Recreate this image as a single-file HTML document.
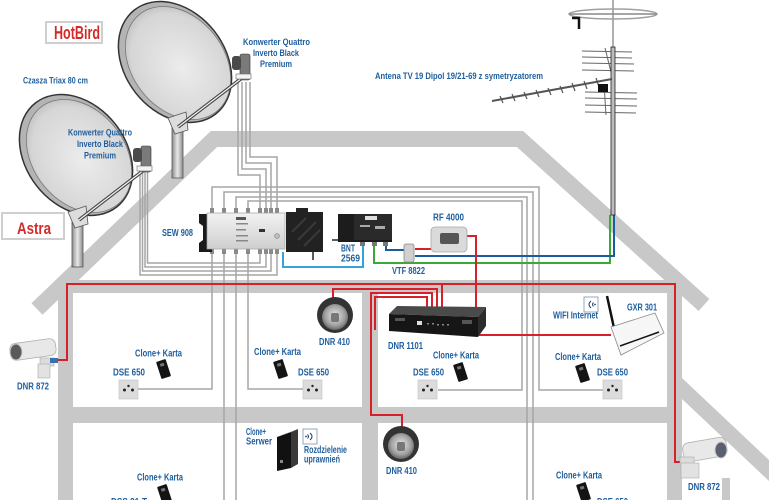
<!DOCTYPE html>
<html><head><meta charset="utf-8"><style>
html,body{margin:0;padding:0;background:#fff;}
svg{display:block;}
.t{font-family:"Liberation Sans Narrow","Liberation Sans",sans-serif;font-weight:bold;fill:#1e5e9e;font-size:10px;}
</style></head><body>
<svg width="769" height="500" viewBox="0 0 769 500" xmlns="http://www.w3.org/2000/svg">
<defs>
<radialGradient id="dish" cx="0.55" cy="0.5" r="0.6">
<stop offset="0" stop-color="#ececec"/><stop offset="0.8" stop-color="#d6d6d6"/><stop offset="1" stop-color="#b8b8b8"/>
</radialGradient>
<linearGradient id="pole" x1="0" x2="1" y1="0" y2="0">
<stop offset="0" stop-color="#8c8c8c"/><stop offset="0.5" stop-color="#e8e8e8"/><stop offset="1" stop-color="#8a8a8a"/>
</linearGradient>
<linearGradient id="silver" x1="0" x2="0" y1="0" y2="1">
<stop offset="0" stop-color="#f2f2f2"/><stop offset="1" stop-color="#cfcfcf"/>
</linearGradient>
<radialGradient id="dome" cx="0.5" cy="0.45" r="0.55">
<stop offset="0" stop-color="#e8e8e8"/><stop offset="0.7" stop-color="#a0a0a0"/><stop offset="1" stop-color="#666"/>
</radialGradient>
</defs>

<!-- house walls -->
<g fill="#c8c8c8">
<polyline points="37,309 214,139 520,139 704,305" fill="none" stroke="#c8c8c8" stroke-width="16" stroke-linejoin="miter"/>
<rect x="58" y="280" width="624" height="13"/>
<rect x="58" y="407" width="624" height="16"/>
<rect x="58" y="280" width="15" height="220"/>
<rect x="362" y="280" width="16" height="220"/>
<rect x="667" y="280" width="15" height="220"/>
<polygon points="682,378 769,460 769,481 682,399"/>
<rect x="722" y="478" width="8" height="22"/>
</g>

<!-- grey coax cables -->
<g fill="none" stroke="#a6a6a6" stroke-width="1.5">
<path d="M140,172 V275 H277 V252"/>
<path d="M142.5,172 V271 H271 V252"/>
<path d="M145,172 V267 H266 V252"/>
<path d="M147.5,172 V263 H260 V252"/>
<path d="M238,82 V175 H260 V212"/>
<path d="M242,82 V169 H266 V212"/>
<path d="M246,82 V163 H271 V212"/>
<path d="M250,82 V157 H277 V212"/>
<path d="M212,212 V187 H539 V390 H603"/>
<path d="M224,212 V192 H533 V500"/>
<path d="M236,212 V197 H527 V500"/>
<path d="M248,212 V201 H522 V390 H438"/>
<path d="M212,252 V389 H138"/>
<path d="M224,252 V500"/>
<path d="M236,252 V500"/>
<path d="M248,252 V389 H303"/>
</g>

<!-- coloured cables -->
<g fill="none" stroke-width="2">
<path d="M283,252 V267 H363 V242" stroke="#37a3dc"/>
<path d="M374,243 V263 H610 V215" stroke="#3aa935"/>
<path d="M386,243 V250 H404" stroke="#1b5c9e"/>
<path d="M415,256 H614 V215" stroke="#1b5c9e"/>
<path d="M415,249 H431" stroke="#d7202a"/>
</g>

<!-- red ethernet -->
<g fill="none" stroke="#d7202a" stroke-width="2">
<path d="M58,360 H67 V284 H675 V462 H681"/>
<path d="M442,284 V308"/>
<path d="M333,300 V289 H437 V308"/>
<path d="M402,428 V415 H371 V293 H432 V308"/>
<path d="M375,330 V297 H427 V308"/>
<path d="M467,236 H476 V313"/>
<path d="M478,335 H611"/>
</g>

<!-- antenna -->
<g>
<line x1="613" y1="0" x2="613" y2="47" stroke="#b0b0b0" stroke-width="2"/>
<ellipse cx="613" cy="14" rx="44" ry="5" fill="none" stroke="#a0a0a0" stroke-width="1.5"/>
<line x1="569" y1="14" x2="657" y2="14" stroke="#888" stroke-width="1.5"/>
<path d="M572,18 H579 V29" fill="none" stroke="#111" stroke-width="2.5"/>
<g stroke="#666" stroke-width="1">
<line x1="582" y1="51" x2="632" y2="52"/><line x1="582" y1="57" x2="632" y2="58"/>
<line x1="582" y1="63" x2="634" y2="64"/><line x1="582" y1="70" x2="634" y2="71"/>
<line x1="585" y1="92" x2="637" y2="93"/><line x1="585" y1="98" x2="637" y2="99"/>
<line x1="585" y1="105" x2="637" y2="106"/><line x1="585" y1="112" x2="636" y2="113"/>
<line x1="605" y1="48" x2="611" y2="72"/><line x1="606" y1="115" x2="604" y2="84"/>
</g>
<rect x="611" y="47" width="4" height="168" fill="#bdbdbd" stroke="#222" stroke-width="0.8"/>
<line x1="492" y1="101" x2="612" y2="79" stroke="#555" stroke-width="2"/>
<g stroke="#555" stroke-width="1.2">
<line x1="500" y1="96" x2="503" y2="103"/><line x1="512" y1="94" x2="515" y2="101"/>
<line x1="524" y1="92" x2="527" y2="99"/><line x1="536" y1="90" x2="539" y2="97"/>
<line x1="548" y1="88" x2="551" y2="95"/><line x1="560" y1="86" x2="563" y2="93"/>
<line x1="572" y1="83" x2="575" y2="91"/><line x1="584" y1="81" x2="587" y2="89"/>
<line x1="596" y1="78" x2="599" y2="87"/>
</g>
<rect x="598" y="84" width="10" height="8" fill="#111"/>
</g>

<!-- HotBird dish -->
<g>
<ellipse cx="175" cy="62" rx="66" ry="50" transform="rotate(52 175 62)" fill="#b4b4b4" stroke="#333" stroke-width="1.5"/>
<ellipse cx="178" cy="63" rx="62" ry="46" transform="rotate(52 178 63)" fill="url(#dish)" stroke="#777" stroke-width="0.8"/>
<rect x="172" y="118" width="11" height="60" fill="url(#pole)" stroke="#555" stroke-width="0.8"/>
<polygon points="168,118 186,112 188,130 175,134" fill="#ddd" stroke="#555" stroke-width="0.8"/>
<line x1="178" y1="127" x2="242" y2="78" stroke="#444" stroke-width="3.5"/>
<line x1="178" y1="127" x2="242" y2="78" stroke="#f0f0f0" stroke-width="1.3"/>
<rect x="240" y="54" width="10" height="26" rx="2" fill="#7a7a7a" stroke="#333" stroke-width="0.6"/>
<rect x="232" y="56" width="9" height="14" rx="3" fill="#4a4a4a"/>
<rect x="236" y="74" width="15" height="5" fill="#f4f4f4" stroke="#666" stroke-width="0.6"/>
</g>

<!-- Astra dish -->
<g>
<ellipse cx="76" cy="155" rx="66" ry="50" transform="rotate(52 76 155)" fill="#b4b4b4" stroke="#333" stroke-width="1.5"/>
<ellipse cx="79" cy="156" rx="62" ry="46" transform="rotate(52 79 156)" fill="url(#dish)" stroke="#777" stroke-width="0.8"/>
<rect x="72" y="212" width="11" height="55" fill="url(#pole)" stroke="#555" stroke-width="0.8"/>
<polygon points="68,212 86,206 88,224 75,228" fill="#ddd" stroke="#555" stroke-width="0.8"/>
<line x1="79" y1="220" x2="144" y2="170" stroke="#444" stroke-width="3.5"/>
<line x1="79" y1="220" x2="144" y2="170" stroke="#f0f0f0" stroke-width="1.3"/>
<rect x="141" y="146" width="10" height="26" rx="2" fill="#7a7a7a" stroke="#333" stroke-width="0.6"/>
<rect x="133" y="148" width="9" height="14" rx="3" fill="#4a4a4a"/>
<rect x="137" y="166" width="15" height="5" fill="#f4f4f4" stroke="#666" stroke-width="0.6"/>
</g>

<!-- labels in boxes -->
<rect x="46" y="22" width="56" height="21" fill="#fff" stroke="#cfcfcf" stroke-width="2"/>
<text x="54" y="39" font-family="Liberation Sans Narrow, Liberation Sans, sans-serif" font-weight="bold" font-size="18" fill="#d42a2a" textLength="46" lengthAdjust="spacingAndGlyphs">HotBird</text>
<rect x="2" y="213" width="62" height="26" fill="#fff" stroke="#cfcfcf" stroke-width="2"/>
<text x="17" y="234" font-family="Liberation Sans Narrow, Liberation Sans, sans-serif" font-weight="bold" font-size="17" fill="#d42a2a" textLength="34" lengthAdjust="spacingAndGlyphs">Astra</text>

<!-- SEW 908 multiswitch -->
<g>
<g fill="#8a8a8a">
<rect x="210" y="208" width="4" height="6"/><rect x="222" y="208" width="4" height="6"/><rect x="234" y="208" width="4" height="6"/><rect x="246" y="208" width="4" height="6"/>
<rect x="258" y="208" width="4" height="6"/><rect x="264" y="208" width="4" height="6"/><rect x="269" y="208" width="4" height="6"/><rect x="275" y="208" width="4" height="6"/>
<rect x="210" y="248" width="4" height="6"/><rect x="222" y="248" width="4" height="6"/><rect x="234" y="248" width="4" height="6"/><rect x="246" y="248" width="4" height="6"/>
<rect x="258" y="248" width="4" height="6"/><rect x="264" y="248" width="4" height="6"/><rect x="269" y="248" width="4" height="6"/><rect x="275" y="248" width="4" height="6"/>
</g>
<path d="M199,214 H212 V252 H199 V243 L203,240 V226 L199,223 Z" fill="#1a1a1a"/>
<rect x="207" y="213" width="78" height="36" fill="url(#silver)" stroke="#a0a0a0" stroke-width="0.7"/>
<rect x="236" y="217" width="10" height="3" fill="#555"/>
<rect x="236" y="223" width="12" height="1.5" fill="#888"/><rect x="236" y="229" width="10" height="1.5" fill="#888"/>
<rect x="236" y="235" width="12" height="1.5" fill="#888"/><rect x="236" y="240" width="12" height="1.5" fill="#888"/>
<rect x="259" y="229" width="6" height="3" fill="#333"/><circle cx="277" cy="236" r="2.5" fill="#bbb" stroke="#777" stroke-width="0.5"/>
<rect x="286" y="212" width="37" height="40" fill="#222"/>
<rect x="296" y="208" width="12" height="5" fill="#222"/>
<path d="M292,232 L306,218 M298,240 L316,222 M304,246 L320,230" stroke="#3a3a3a" stroke-width="2"/>
<line x1="313" y1="252" x2="313" y2="260" stroke="#222" stroke-width="1.5"/>
</g>

<!-- BNT 2569 -->
<g>
<line x1="332" y1="240" x2="340" y2="240" stroke="#222" stroke-width="1.5"/>
<rect x="338" y="214" width="54" height="28" fill="#1c1c1c"/>
<rect x="354" y="214" width="38" height="26" fill="#2a2a2a"/>
<rect x="365" y="216" width="12" height="4" fill="#ddd"/>
<rect x="360" y="225" width="10" height="2" fill="#aaa"/><rect x="375" y="226" width="10" height="3" fill="#aaa"/>
<rect x="360" y="242" width="5" height="4" fill="#777"/><rect x="372" y="242" width="5" height="4" fill="#777"/><rect x="383" y="242" width="5" height="4" fill="#777"/>
</g>

<!-- VTF 8822 -->
<rect x="404" y="244" width="10" height="18" rx="2" fill="#d0d0d0" stroke="#888" stroke-width="0.8"/>
<!-- RF 4000 -->
<rect x="431" y="227" width="36" height="25" rx="4" fill="#dadada" stroke="#a8a8a8" stroke-width="0.8"/>
<rect x="440" y="233" width="19" height="11" rx="2" fill="#555"/>

<!-- DNR 1101 -->
<g>
<polygon points="389,314 397,306 486,307 478,317" fill="#4a4a4a"/>
<polygon points="389,314 478,317 478,337 389,331" fill="#161616"/>
<polygon points="478,317 486,307 486,326 478,337" fill="#2c2c2c"/>
<rect x="417" y="321" width="5" height="4" fill="#ddd"/>
<g fill="#888"><rect x="427" y="323" width="2" height="1.5"/><rect x="432" y="323" width="2" height="1.5"/><rect x="437" y="324" width="2" height="1.5"/><rect x="442" y="324" width="2" height="1.5"/><rect x="447" y="324" width="2" height="1.5"/></g>
<rect x="395" y="318" width="10" height="3" fill="#555"/><rect x="462" y="320" width="10" height="4" fill="#555"/>
</g>

<!-- router GXR 301 -->
<line x1="607" y1="296" x2="614" y2="328" stroke="#111" stroke-width="2.5"/>
<polygon points="611,327 655,313 664,333 621,355" fill="#f6f6f6" stroke="#8a8a8a" stroke-width="0.8"/>
<line x1="620" y1="346" x2="659" y2="332" stroke="#111" stroke-width="1.5"/>

<!-- wifi icons -->
<rect x="584" y="297" width="14" height="15" fill="#fff" stroke="#7b93ad" stroke-width="0.8"/>
<path d="M591,301 Q587,304.5 591,308 M593.5,302.5 Q591.5,304.5 593.5,306.5" fill="none" stroke="#1e3f6a" stroke-width="1"/>
<circle cx="595" cy="304.5" r="0.9" fill="#1e3f6a"/>
<rect x="303" y="429" width="14" height="15" fill="#fff" stroke="#7b93ad" stroke-width="0.8"/>
<path d="M310,433 Q314,436.5 310,440 M307.5,434.5 Q309.5,436.5 307.5,438.5" fill="none" stroke="#1e3f6a" stroke-width="1"/>
<circle cx="306" cy="436.5" r="0.9" fill="#1e3f6a"/>

<!-- Clone+ Serwer -->
<polygon points="277,437 291,432 291,468 277,471" fill="#111"/>
<polygon points="291,432 298,429 298,464 291,468" fill="#3a3a3a"/>
<polygon points="277,437 284,434 298,429 291,432" fill="#bbb"/>
<rect x="280" y="460" width="3" height="3" fill="#888"/>

<!-- dome cameras -->
<circle cx="335" cy="315" r="18" fill="#333"/><circle cx="335" cy="317" r="13" fill="url(#dome)"/><rect x="331" y="313" width="8" height="9" rx="2" fill="#777"/>
<circle cx="401" cy="444" r="18" fill="#333"/><circle cx="401" cy="446" r="13" fill="url(#dome)"/><rect x="397" y="442" width="8" height="9" rx="2" fill="#777"/>

<!-- bullet cameras -->
<g>
<rect x="10" y="341" width="46" height="17" rx="6" fill="#e8e8e8" stroke="#b0b0b0" stroke-width="0.8" transform="rotate(-8 33 350)"/>
<ellipse cx="16" cy="352" rx="6" ry="8" fill="#5a5a5a" stroke="#ccc" stroke-width="1"/>
<rect x="40" y="358" width="14" height="8" fill="#dcdcdc" stroke="#aaa" stroke-width="0.6"/>
<rect x="38" y="364" width="12" height="14" fill="#e2e2e2" stroke="#aaa" stroke-width="0.6"/>
<rect x="50" y="358" width="8" height="5" fill="#3a6fb0"/>
</g>
<g>
<rect x="683" y="440" width="44" height="19" rx="6" fill="#e8e8e8" stroke="#b0b0b0" stroke-width="0.8" transform="rotate(-10 705 450)"/>
<ellipse cx="721" cy="450" rx="6" ry="8" fill="#5a6070" stroke="#ccc" stroke-width="1"/>
<rect x="680" y="457" width="14" height="8" fill="#dcdcdc" stroke="#aaa" stroke-width="0.6"/>
<rect x="681" y="463" width="18" height="15" fill="#e2e2e2" stroke="#aaa" stroke-width="0.6"/>
</g>

<!-- DSE 650 sockets -->
<g>
<rect x="119" y="380" width="19" height="19" fill="#dcdcdc" stroke="#c0c0c0" stroke-width="0.6"/>
<circle cx="124.5" cy="390" r="1.5" fill="#222"/><circle cx="132.5" cy="390" r="1.5" fill="#222"/><circle cx="128.5" cy="386" r="1.2" fill="#222"/>
<rect x="303" y="380" width="19" height="19" fill="#dcdcdc" stroke="#c0c0c0" stroke-width="0.6"/>
<circle cx="308.5" cy="390" r="1.5" fill="#222"/><circle cx="316.5" cy="390" r="1.5" fill="#222"/><circle cx="312.5" cy="386" r="1.2" fill="#222"/>
<rect x="418" y="380" width="19" height="19" fill="#dcdcdc" stroke="#c0c0c0" stroke-width="0.6"/>
<circle cx="423.5" cy="390" r="1.5" fill="#222"/><circle cx="431.5" cy="390" r="1.5" fill="#222"/><circle cx="427.5" cy="386" r="1.2" fill="#222"/>
<rect x="603" y="380" width="19" height="19" fill="#dcdcdc" stroke="#c0c0c0" stroke-width="0.6"/>
<circle cx="608.5" cy="390" r="1.5" fill="#222"/><circle cx="616.5" cy="390" r="1.5" fill="#222"/><circle cx="612.5" cy="386" r="1.2" fill="#222"/>
</g>

<!-- Clone+ Karta cards -->
<g fill="#141414">
<g transform="translate(156,362) rotate(-18)"><rect width="10" height="18" rx="1"/><rect x="3" y="3" width="4" height="3" fill="#777"/></g>
<g transform="translate(273,362) rotate(-18)"><rect width="10" height="18" rx="1"/><rect x="3" y="3" width="4" height="3" fill="#777"/></g>
<g transform="translate(453,365) rotate(-18)"><rect width="10" height="18" rx="1"/><rect x="3" y="3" width="4" height="3" fill="#777"/></g>
<g transform="translate(575,366) rotate(-18)"><rect width="10" height="18" rx="1"/><rect x="3" y="3" width="4" height="3" fill="#777"/></g>
<g transform="translate(576,485) rotate(-18)"><rect width="10" height="18" rx="1"/><rect x="3" y="3" width="4" height="3" fill="#777"/></g>
<g transform="translate(157,487) rotate(-18)"><rect width="10" height="18" rx="1"/><rect x="3" y="3" width="4" height="3" fill="#777"/></g>
</g>

<!-- blue labels -->
<g class="t">
<text x="23" y="83.5" font-size="9" textLength="65" lengthAdjust="spacingAndGlyphs">Czasza Triax 80 cm</text>
<text x="68" y="135.5" font-size="9.5" textLength="64" lengthAdjust="spacingAndGlyphs">Konwerter Quattro</text>
<text x="77" y="147" font-size="9.5" textLength="46" lengthAdjust="spacingAndGlyphs">Inverto Black</text>
<text x="84" y="158.5" font-size="9.5" textLength="32" lengthAdjust="spacingAndGlyphs">Premium</text>
<text x="243" y="45" font-size="9.5" textLength="67" lengthAdjust="spacingAndGlyphs">Konwerter Quattro</text>
<text x="253" y="56" font-size="9.5" textLength="46" lengthAdjust="spacingAndGlyphs">Inverto Black</text>
<text x="260" y="67" font-size="9.5" textLength="32" lengthAdjust="spacingAndGlyphs">Premium</text>
<text x="375" y="79" font-size="9" textLength="168" lengthAdjust="spacingAndGlyphs">Antena TV 19 Dipol 19/21-69 z symetryzatorem</text>
<text x="162" y="236" textLength="31" lengthAdjust="spacingAndGlyphs">SEW 908</text>
<text x="341" y="251.7" textLength="14" lengthAdjust="spacingAndGlyphs">BNT</text>
<text x="341" y="261.5" textLength="19" lengthAdjust="spacingAndGlyphs">2569</text>
<text x="392" y="274" textLength="33" lengthAdjust="spacingAndGlyphs">VTF 8822</text>
<text x="433" y="220.7" textLength="31" lengthAdjust="spacingAndGlyphs">RF 4000</text>
<text x="319" y="345" textLength="31" lengthAdjust="spacingAndGlyphs">DNR 410</text>
<text x="388" y="349" textLength="35" lengthAdjust="spacingAndGlyphs">DNR 1101</text>
<text x="553" y="318.7" textLength="45" lengthAdjust="spacingAndGlyphs">WIFI Internet</text>
<text x="627" y="310.7" textLength="30" lengthAdjust="spacingAndGlyphs">GXR 301</text>
<text x="17" y="389.7" textLength="32" lengthAdjust="spacingAndGlyphs">DNR 872</text>
<text x="688" y="490" textLength="32" lengthAdjust="spacingAndGlyphs">DNR 872</text>
<text x="386" y="474" textLength="31" lengthAdjust="spacingAndGlyphs">DNR 410</text>
<text x="135" y="356.7" textLength="47" lengthAdjust="spacingAndGlyphs">Clone+ Karta</text>
<text x="254" y="355" textLength="47" lengthAdjust="spacingAndGlyphs">Clone+ Karta</text>
<text x="433" y="358.7" textLength="46" lengthAdjust="spacingAndGlyphs">Clone+ Karta</text>
<text x="555" y="360" textLength="46" lengthAdjust="spacingAndGlyphs">Clone+ Karta</text>
<text x="556" y="478.3" textLength="46" lengthAdjust="spacingAndGlyphs">Clone+ Karta</text>
<text x="137" y="480.7" textLength="46" lengthAdjust="spacingAndGlyphs">Clone+ Karta</text>
<text x="113" y="375.7" textLength="32" lengthAdjust="spacingAndGlyphs">DSE 650</text>
<text x="298" y="375.7" textLength="31" lengthAdjust="spacingAndGlyphs">DSE 650</text>
<text x="413" y="375.7" textLength="31" lengthAdjust="spacingAndGlyphs">DSE 650</text>
<text x="597" y="375.7" textLength="31" lengthAdjust="spacingAndGlyphs">DSE 650</text>
<text x="597" y="505" textLength="31" lengthAdjust="spacingAndGlyphs">DSE 650</text>
<text x="111" y="505" textLength="36" lengthAdjust="spacingAndGlyphs">DSS 21-T</text>
<text x="246" y="435" textLength="20" lengthAdjust="spacingAndGlyphs">Clone+</text>
<text x="246" y="444.5" textLength="26" lengthAdjust="spacingAndGlyphs">Serwer</text>
<text x="304" y="453" textLength="43" lengthAdjust="spacingAndGlyphs">Rozdzielenie</text>
<text x="304" y="462.7" textLength="36" lengthAdjust="spacingAndGlyphs">uprawnień</text>
</g>
</svg>
</body></html>
